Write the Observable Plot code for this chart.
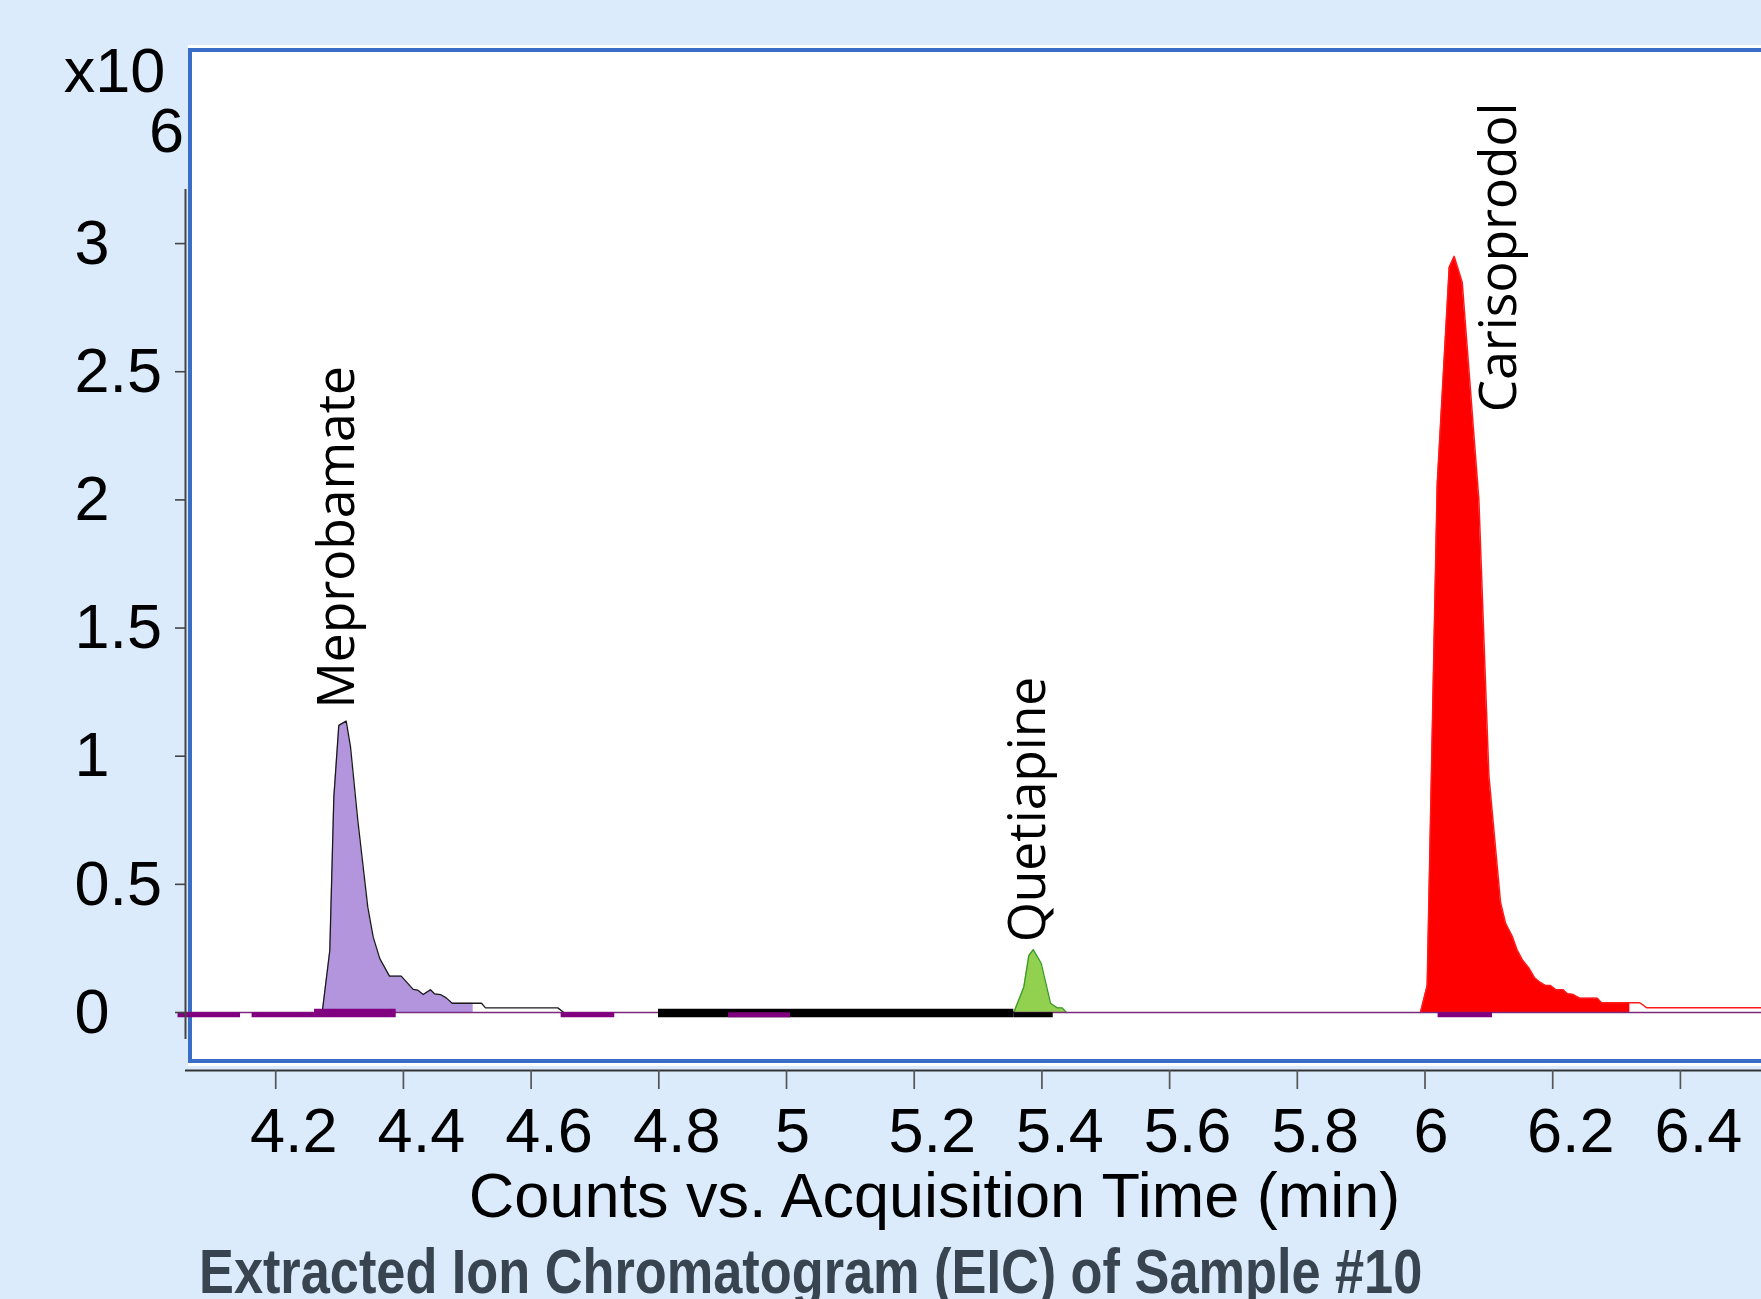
<!DOCTYPE html>
<html>
<head>
<meta charset="utf-8">
<script src="https://cdn.jsdelivr.net/npm/d3@7"></script>
<script src="https://cdn.jsdelivr.net/npm/@observablehq/plot@0.6"></script>
<style>
  html, body { margin: 0; padding: 0; background: #DBEBFC; }
  #wrap { position: relative; width: 1761px; height: 1299px; overflow: hidden; background: #DBEBFC;
          font-family: "Liberation Sans", Arial, sans-serif; }
  #panel { position: absolute; left: 188px; top: 48px; width: 1700px; height: 1015px; box-sizing: border-box;
           background: #fff; border: 4px solid #3A6DC7; box-shadow: 0 -3px 0 #fff, 0 3px 0 #fff; }
  #chart { position: absolute; left: 0; top: 0; }
  #title { position: absolute; left: 199px; top: 1240px; font-size: 63px; line-height: 63px; font-weight: bold;
           color: #38444F; white-space: nowrap; transform: scaleX(0.83); transform-origin: 0 0; }
</style>
</head>
<body>
<div id="wrap">
  <div id="panel"></div>
  <div id="chart"></div>
  <div id="title">Extracted Ion Chromatogram (EIC) of Sample #10</div>
</div>
<script>
// ---- Data (counts in units of 10^6, time in minutes) ----
const mepTime   = [4.2728, 4.2847, 4.2910, 4.2988, 4.3104, 4.3172, 4.3286, 4.3442, 4.3527, 4.3630, 4.3782, 4.3966, 4.4153, 4.4226, 4.4310, 4.4424, 4.4487, 4.4580, 4.4670, 4.4764, 4.5093, 4.5223, 4.5286, 4.6418, 4.6512];
const mepCounts = [0, 0.242, 0.840, 1.120, 1.137, 1.035, 0.749, 0.411, 0.294, 0.210, 0.142, 0.142, 0.090, 0.087, 0.070, 0.089, 0.073, 0.070, 0.057, 0.036, 0.036, 0.036, 0.018, 0.018, 0];
const mepFillEnd = 4.5093;

const quetTime   = [5.3560, 5.3716, 5.3795, 5.3864, 5.3989, 5.4135, 5.4240, 5.4318, 5.4385];
const quetCounts = [0, 0.099, 0.222, 0.245, 0.192, 0.036, 0.018, 0.018, 0];

const cariTime   = [5.9929, 6.0034, 6.0191, 6.0379, 6.0457, 6.0583, 6.0843, 6.1000, 6.1183, 6.1262, 6.1366, 6.1445, 6.1523, 6.1626, 6.1716, 6.1799, 6.1888, 6.1966, 6.2045, 6.2165, 6.2228, 6.2322, 6.2421, 6.2698, 6.2764, 6.3208, 6.3364, 6.3469, 6.5268];
const cariCounts = [0, 0.105, 2.060, 2.907, 2.950, 2.848, 2.002, 0.925, 0.429, 0.348, 0.297, 0.242, 0.206, 0.174, 0.135, 0.118, 0.105, 0.105, 0.089, 0.089, 0.073, 0.070, 0.056, 0.056, 0.038, 0.038, 0.038, 0.019, 0.019];
const cariFillEnd = 6.3208;

// integration baseline bars (time ranges)
const purpleBarStart = [4.047, 4.163, 4.647, 4.9092, 6.0205];
const purpleBarEnd   = [4.1449, 4.2608, 4.731, 5.0063, 6.1057];
const purpleWideStart = [4.2608];
const purpleWideEnd   = [4.3887];
const blackBarStart = [4.7995];
const blackBarEnd   = [5.356];
const blackLowStart = [5.356];
const blackLowEnd   = [5.4177];

// peak labels
const peakNames  = ["Meprobamate", "Quetiapine", "Carisoprodol"];
const labelTime  = [4.3223, 5.4056, 6.1418];
const labelCount = [1.186, 0.274, 2.342];

// axes
const xTicks = [4.2, 4.4, 4.6, 4.8, 5, 5.2, 5.4, 5.6, 5.8, 6, 6.2, 6.4];
const xTickLabels = ["4.2", "4.4", "4.6", "4.8", "5", "5.2", "5.4", "5.6", "5.8", "6", "6.2", "6.4"];
const yTicks = [0, 0.5, 1, 1.5, 2, 2.5, 3];
const yTickLabels = ["0", "0.5", "1", "1.5", "2", "2.5", "3"];
const xTitle = "Counts vs. Acquisition Time (min)";
const yExpBase = "x10";
const yExpPow = "6";

const xDomain = [4.0587, 6.527];
const yDomain = [-0.2263, 3.211];
const yAxisFloor = -0.105;

// ---- Build rows ----
const rows = (T, V) => T.map((t, i) => ({t, v: V[i]}));
const mep = rows(mepTime, mepCounts);
const quet = rows(quetTime, quetCounts);
const cari = rows(cariTime, cariCounts);
const bars = (S, E) => S.map((s, i) => ({s, e: E[i]}));
const labels = peakNames.map((n, i) => ({n, t: labelTime[i], v: labelCount[i]}));
const xt = xTicks.map((t, i) => ({t, l: xTickLabels[i]}));
const yt = yTicks.map((t, i) => ({t, l: yTickLabels[i]}));

const FONT = "'Liberation Sans', Arial, sans-serif";
const LFONT = "'Open Sans', 'Noto Sans', sans-serif";

const chart = Plot.plot({
  width: 1761, height: 1240,
  marginLeft: 185, marginRight: 0, marginTop: 189, marginBottom: 170,
  style: {background: "transparent", fontFamily: FONT, overflow: "visible"},
  x: {domain: xDomain, axis: null},
  y: {domain: yDomain, axis: null},
  marks: [
    // peaks
    Plot.areaY(mep.filter(d => d.t <= mepFillEnd), {x: "t", y: "v", fill: "#B395DE"}),
    Plot.lineY(mep, {x: "t", y: "v", stroke: "#1a1a1a", strokeWidth: 1.3}),
    Plot.areaY(quet, {x: "t", y: "v", fill: "#92D050"}),
    Plot.lineY(quet, {x: "t", y: "v", stroke: "#3A9A28", strokeWidth: 1.3}),
    Plot.areaY(cari.filter(d => d.t <= cariFillEnd), {x: "t", y: "v", fill: "#FF0000"}),
    Plot.lineY(cari, {x: "t", y: "v", stroke: "#FF1A1A", strokeWidth: 1.5}),
    // baseline
    Plot.ruleY([0], {stroke: "#7B2A7B", strokeWidth: 1.5}),
    // integration bars
    Plot.ruleY(bars(blackBarStart, blackBarEnd), {x1: "s", x2: "e", y: 0, stroke: "#000", strokeWidth: 8.4, dy: 0.5}),
    Plot.ruleY(bars(blackLowStart, blackLowEnd), {x1: "s", x2: "e", y: 0, stroke: "#000", strokeWidth: 5, dy: 2.2}),
    Plot.ruleY(bars(purpleBarStart, purpleBarEnd), {x1: "s", x2: "e", y: 0, stroke: "#800080", strokeWidth: 5, dy: 2.2}),
    Plot.ruleY(bars(purpleWideStart, purpleWideEnd), {x1: "s", x2: "e", y: 0, stroke: "#800080", strokeWidth: 8.4, dy: 0.5}),
    // peak labels
    Plot.text(labels, {x: "t", y: "v", text: "n", rotate: -90, textAnchor: "start",
      lineAnchor: "bottom", fontSize: 51.5, fontFamily: LFONT, fill: "#000"}),
    // y axis
    Plot.ruleX([xDomain[0]], {y1: yAxisFloor, y2: yDomain[1], stroke: "#444", strokeWidth: 2}),
    Plot.axisY(yTicks, {tickSize: 10, tickFormat: () => "", stroke: "#444", strokeWidth: 1.6, label: null}),
    Plot.text(yt, {y: "t", text: "l", frameAnchor: "left", dx: -111, textAnchor: "start", lineAnchor: "middle",
      fontSize: 63, fill: "#000"}),
    Plot.text([yExpBase], {frameAnchor: "top-left", dx: -71, dy: -98, textAnchor: "middle", lineAnchor: "bottom", fontSize: 63}),
    Plot.text([yExpPow], {frameAnchor: "top-left", dx: -19, dy: -38, textAnchor: "middle", lineAnchor: "bottom", fontSize: 63}),
    // x axis
    Plot.ruleY([yDomain[0]], {stroke: "#333", strokeWidth: 2.2}),
    Plot.axisX(xTicks, {tickSize: 19, tickFormat: () => "", stroke: "#555", strokeWidth: 1.7, label: null}),
    Plot.text(xt.filter(d => d.l.length > 1), {x: "t", text: "l", frameAnchor: "bottom", lineAnchor: "top", dy: 37, dx: 18, fontSize: 63}),
    Plot.text(xt.filter(d => d.l.length === 1), {x: "t", text: "l", frameAnchor: "bottom", lineAnchor: "top", dy: 37, dx: 6, fontSize: 63}),
    Plot.text([xTitle], {frameAnchor: "bottom", dx: -39, dy: 146, lineAnchor: "bottom", textAnchor: "middle", fontSize: 63})
  ]
});
document.getElementById("chart").appendChild(chart);
</script>
</body>
</html>
